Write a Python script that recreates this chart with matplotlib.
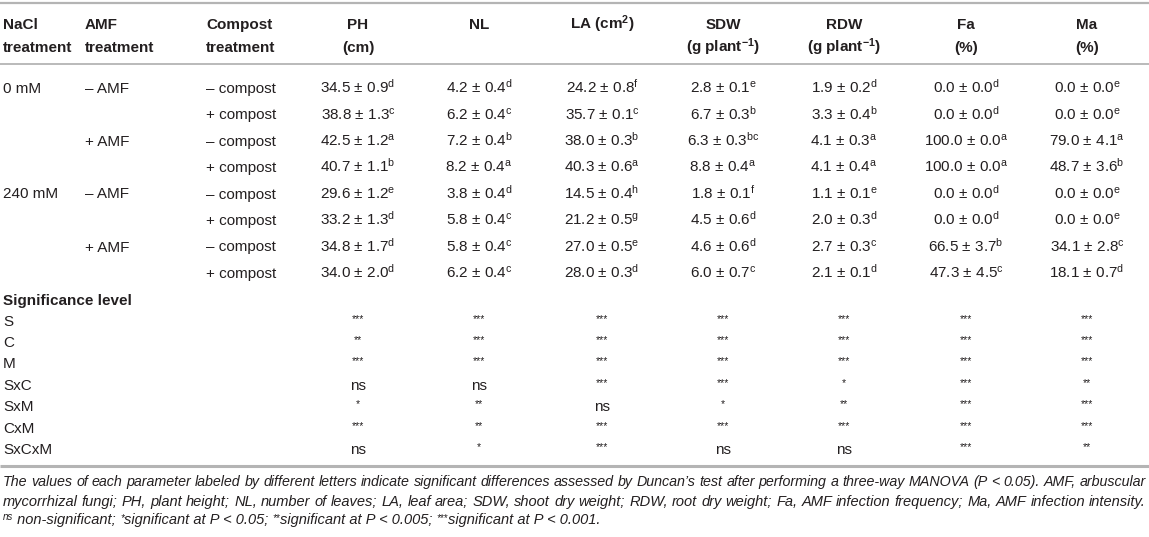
import matplotlib
matplotlib.use("Agg")
import matplotlib.pyplot as plt

plt.rcParams['font.family'] = ['Liberation Sans', 'DejaVu Sans']
plt.rcParams['mathtext.fontset'] = 'custom'
plt.rcParams['mathtext.rm'] = 'Liberation Sans'
plt.rcParams['mathtext.it'] = 'Liberation Sans:italic'
plt.rcParams['mathtext.bf'] = 'Liberation Sans:bold'

# ---------------- data ----------------
nacl = ["0 mM", "", "", "", "240 mM", "", "", ""]
amf = ["– AMF", "", "+ AMF", "", "– AMF", "", "+ AMF", ""]
compost = ["– compost", "+ compost"] * 4

col_heads = [("PH", "(cm)"), ("NL", ""), ("LA (cm$^{\\mathbf{2}}$)", ""),
             ("SDW", "(g plant$^{\\mathbf{-1}}$)"), ("RDW", "(g plant$^{\\mathbf{-1}}$)"),
             ("Fa", "(%)"), ("Ma", "(%)")]

ph_mean = [34.5, 38.8, 42.5, 40.7, 29.6, 33.2, 34.8, 34.0]
ph_se = [0.9, 1.3, 1.2, 1.1, 1.2, 1.3, 1.7, 2.0]
ph_let = ["d", "c", "a", "b", "e", "d", "d", "d"]

nl_mean = [4.2, 6.2, 7.2, 8.2, 3.8, 5.8, 5.8, 6.2]
nl_se = [0.4, 0.4, 0.4, 0.4, 0.4, 0.4, 0.4, 0.4]
nl_let = ["d", "c", "b", "a", "d", "c", "c", "c"]

la_mean = [24.2, 35.7, 38.0, 40.3, 14.5, 21.2, 27.0, 28.0]
la_se = [0.8, 0.1, 0.3, 0.6, 0.4, 0.5, 0.5, 0.3]
la_let = ["f", "c", "b", "a", "h", "g", "e", "d"]

sdw_mean = [2.8, 6.7, 6.3, 8.8, 1.8, 4.5, 4.6, 6.0]
sdw_se = [0.1, 0.3, 0.3, 0.4, 0.1, 0.6, 0.6, 0.7]
sdw_let = ["e", "b", "bc", "a", "f", "d", "d", "c"]

rdw_mean = [1.9, 3.3, 4.1, 4.1, 1.1, 2.0, 2.7, 2.1]
rdw_se = [0.2, 0.4, 0.3, 0.4, 0.1, 0.3, 0.3, 0.1]
rdw_let = ["d", "b", "a", "a", "e", "d", "c", "d"]

fa_mean = [0.0, 0.0, 100.0, 100.0, 0.0, 0.0, 66.5, 47.3]
fa_se = [0.0, 0.0, 0.0, 0.0, 0.0, 0.0, 3.7, 4.5]
fa_let = ["d", "d", "a", "a", "d", "d", "b", "c"]

ma_mean = [0.0, 0.0, 79.0, 48.7, 0.0, 0.0, 34.1, 18.1]
ma_se = [0.0, 0.0, 4.1, 3.6, 0.0, 0.0, 2.8, 0.7]
ma_let = ["e", "e", "a", "b", "e", "e", "c", "d"]

sig_terms = ["S", "C", "M", "SxC", "SxM", "CxM", "SxCxM"]
sig_S = ["***"] * 7
sig_C = ["**", "***", "***", "***", "***", "***", "***"]
sig_M = ["***"] * 7
sig_SxC = ["ns", "ns", "***", "***", "*", "***", "**"]
sig_SxM = ["*", "**", "ns", "*", "**", "***", "***"]
sig_CxM = ["***", "**", "***", "***", "***", "***", "***"]
sig_SxCxM = ["ns", "*", "***", "ns", "ns", "***", "**"]

foot1 = ("The values of each parameter labeled by different letters indicate significant differences "
         "assessed by Duncan\u2019s test after performing a three-way MANOVA (P < 0.05). AMF, arbuscular")
foot2 = ("mycorrhizal fungi; PH, plant height; NL, number of leaves; LA, leaf area; SDW, shoot dry weight; "
         "RDW, root dry weight; Fa, AMF infection frequency; Ma, AMF infection intensity.")

# ---------------- layout ----------------
W, H = 1149, 537
TXT = "#231f20"
RULE = "#b4b4b4"
FS = 11

fig = plt.figure(figsize=(W / 100, H / 100), dpi=100)
ax = fig.add_axes([0, 0, 1, 1])
ax.set_xlim(0, W)
ax.set_ylim(H, 0)
ax.axis("off")
renderer = fig.canvas.get_renderer()

col_x = [358, 479, 602, 723, 844, 966, 1087]
x_nacl, x_amf, x_comp = 3, 85, 206
row_y = [88, 114.5, 141, 167, 193.5, 220, 246.5, 273]
sig_head_y = 300
sig_y = [321, 342, 363, 385, 406, 428, 449]
BL = 5  # baseline offset from visual centre

# rules
ax.plot([0, W], [3, 3], color=RULE, lw=1.6, solid_capstyle="butt")
ax.plot([0, W], [64, 64], color=RULE, lw=1.3, solid_capstyle="butt")
ax.plot([0, W], [466, 466], color=RULE, lw=2.2, solid_capstyle="butt")

# headers
h1, h2 = 24, 47
for x, (a, b) in zip([x_nacl, x_amf, x_comp], [("NaCl", "treatment"), ("AMF", "treatment"),
                                                ("Compost", "treatment")]):
    ax.text(x, h1 + BL, a, fontsize=FS, fontweight="bold", color=TXT, ha="left", va="baseline")
    ax.text(x, h2 + BL, b, fontsize=FS, fontweight="bold", color=TXT, ha="left", va="baseline")
for x, (a, b) in zip(col_x, col_heads):
    ax.text(x, h1 + BL, a, fontsize=FS, fontweight="bold", color=TXT, ha="center", va="baseline")
    if b:
        ax.text(x, h2 + BL, b, fontsize=FS, fontweight="bold", color=TXT, ha="center", va="baseline")

# body rows
for i, y in enumerate(row_y):
    for x, lab in zip([x_nacl, x_amf, x_comp], [nacl[i], amf[i], compost[i]]):
        if lab:
            ax.text(x, y + BL, lab, fontsize=FS, color=TXT, ha="left", va="baseline")

cols = [(ph_mean, ph_se, ph_let), (nl_mean, nl_se, nl_let), (la_mean, la_se, la_let),
        (sdw_mean, sdw_se, sdw_let), (rdw_mean, rdw_se, rdw_let), (fa_mean, fa_se, fa_let),
        (ma_mean, ma_se, ma_let)]
for x, (m, s, l) in zip(col_x, cols):
    for i, y in enumerate(row_y):
        txt = f"{m[i]:.1f} \u00b1 {s[i]:.1f}" + "$^{\\mathrm{" + l[i] + "}}$"
        ax.text(x, y + BL, txt, fontsize=FS, color=TXT, ha="center", va="baseline")

# significance block
ax.text(x_nacl, sig_head_y + BL, "Significance level", fontsize=FS, fontweight="bold",
        color=TXT, ha="left", va="baseline")
sig_rows = [sig_S, sig_C, sig_M, sig_SxC, sig_SxM, sig_CxM, sig_SxCxM]
for term, vals, y in zip(sig_terms, sig_rows, sig_y):
    ax.text(x_nacl, y + BL, term, fontsize=FS, color=TXT, ha="left", va="baseline")
    for x, v in zip(col_x, vals):
        if v == "ns":
            ax.text(x, y + BL, v, fontsize=FS, color=TXT, ha="center", va="baseline")
        else:
            ax.text(x, y + 1, v, fontsize=7.5, color=TXT, ha="center", va="baseline")


# footnotes
FFS = 10.5


def justify(line, y, x0, x1):
    words = line.split(" ")
    size = FFS
    for _ in range(3):
        objs = [ax.text(0, y, w, fontsize=size, style="italic", color=TXT, ha="left", va="baseline")
                for w in words]
        widths = [o.get_window_extent(renderer).width for o in objs]
        space = 0.24 * size * 100 / 72
        natural = sum(widths) + space * (len(words) - 1)
        if natural <= x1 - x0:
            break
        for o in objs:
            o.remove()
        size *= (x1 - x0) / natural
    gap = (x1 - x0 - sum(widths)) / (len(words) - 1)
    x = x0
    for o, w in zip(objs, widths):
        o.set_x(x)
        x += w + gap


justify(foot1, 486, 3, 1146)
justify(foot2, 506, 3, 1146)


def runs(parts, x, y):
    for text, size, dy in parts:
        t = ax.text(x, y + dy, text, fontsize=size, style="italic", color=TXT, ha="left", va="baseline")
        x += t.get_window_extent(renderer).width


runs([("ns", 7, -4), (" non-significant; ", FFS, 0), ("*", 7, -3), ("significant at P < 0.05; ", FFS, 0),
      ("**", 7, -3), ("significant at P < 0.005; ", FFS, 0), ("***", 7, -3),
      ("significant at P < 0.001.", FFS, 0)], 3, 524)

fig.savefig("out.png", dpi=100)
